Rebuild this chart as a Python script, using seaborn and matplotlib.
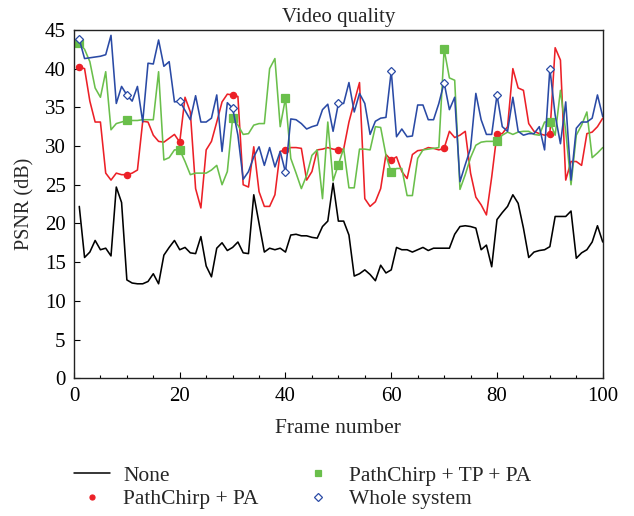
import numpy as np
import pandas as pd
import matplotlib
matplotlib.use("Agg")
import matplotlib.pyplot as plt
from matplotlib.lines import Line2D
import seaborn as sns

# PSNR per frame
frames = list(range(1, 101))

none_psnr = [
    22.2, 15.6, 16.3, 17.8, 16.6, 16.8, 15.8, 24.7, 22.7, 12.7,
    12.3, 12.2, 12.2, 12.5, 13.5, 12.2, 15.9, 16.9, 17.8, 16.6,
    16.9, 16.2, 16.1, 18.3, 14.5, 13.1, 16.8, 17.5, 16.5, 16.9,
    17.6, 16.2, 16.1, 23.7, 20.0, 16.3, 16.8, 16.6, 16.8, 16.3,
    18.5, 18.6, 18.4, 18.4, 18.2, 18.1, 19.6, 20.3, 25.2, 20.3,
    20.3, 18.5, 13.2, 13.5, 14.0, 13.4, 12.6, 14.6, 13.6, 14.0,
    16.9, 16.6, 16.6, 16.3, 16.6, 16.9, 16.5, 16.8, 16.8, 16.8,
    16.8, 18.6, 19.6, 19.7, 19.6, 19.4, 16.6, 17.2, 14.4, 20.5,
    21.4, 22.2, 23.7, 22.6, 19.4, 15.6, 16.3, 16.5, 16.6, 17.0,
    20.9, 20.9, 20.9, 21.6, 15.5, 16.2, 16.6, 17.6, 19.7, 17.6,
]

pathchirp_pa = [
    40.2, 40.0, 35.8, 33.1, 33.1, 26.5, 25.6, 26.5, 26.3, 26.3,
    26.5, 26.9, 33.2, 33.1, 31.4, 30.6, 30.5, 31.0, 31.5, 30.5,
    36.3, 34.4, 24.5, 22.0, 29.5, 30.6, 33.1, 35.7, 36.7, 36.6,
    36.4, 25.0, 24.7, 29.9, 24.1, 22.2, 22.2, 23.7, 29.3, 29.5,
    29.8, 29.8, 29.7, 25.6, 26.7, 29.5, 29.6, 29.8, 29.6, 29.5,
    29.6, 33.1, 35.7, 38.2, 23.2, 22.2, 22.8, 24.5, 28.9, 28.2,
    28.6, 26.7, 25.8, 28.9, 29.4, 29.5, 29.8, 29.7, 29.5, 29.7,
    31.9, 31.1, 31.4, 31.9, 26.5, 23.4, 22.4, 21.1, 26.0, 31.6,
    31.6, 32.5, 40.0, 37.5, 37.2, 32.9, 31.9, 31.6, 31.4, 31.6,
    42.7, 41.1, 25.6, 28.0, 28.0, 27.5, 31.6, 31.8, 32.5, 33.6,
]

pathchirp_tp_pa = [
    43.3, 42.5, 40.9, 37.5, 36.3, 39.6, 32.1, 32.9, 33.1, 33.3,
    33.3, 33.3, 33.4, 33.4, 33.4, 39.6, 28.2, 28.5, 29.5, 29.5,
    28.0, 26.3, 26.5, 26.5, 26.5, 26.9, 27.5, 25.0, 26.7, 33.6,
    32.7, 31.5, 31.6, 32.7, 32.9, 32.9, 40.0, 41.3, 32.5, 36.2,
    28.4, 26.5, 24.5, 26.2, 28.8, 29.5, 23.2, 33.1, 25.5, 27.6,
    29.7, 24.6, 24.6, 29.6, 29.6, 29.5, 32.5, 32.4, 28.8, 26.6,
    27.1, 27.1, 23.6, 23.6, 28.4, 29.5, 29.6, 29.7, 29.8, 42.5,
    38.8, 38.5, 24.4, 26.3, 28.5, 30.1, 30.5, 30.6, 30.6, 30.6,
    31.4, 31.8, 31.5, 31.8, 31.9, 31.9, 31.5, 31.4, 33.1, 33.1,
    31.4, 37.2, 31.9, 25.0, 31.4, 32.7, 34.4, 28.5, 29.1, 29.8,
]

whole_system = [
    43.8, 41.3, 41.4, 41.5, 41.6, 41.8, 44.3, 35.5, 37.7, 36.6,
    35.8, 37.7, 33.1, 40.7, 40.6, 43.7, 40.3, 40.9, 35.7, 35.8,
    34.6, 33.4, 36.5, 33.1, 33.1, 33.6, 36.6, 29.3, 35.6, 34.9,
    31.4, 25.7, 26.7, 28.6, 29.9, 27.5, 29.8, 27.3, 29.3, 26.6,
    33.5, 33.4, 32.9, 32.2, 32.5, 32.7, 34.7, 35.4, 31.9, 35.5,
    35.5, 38.2, 34.4, 36.8, 35.5, 31.5, 33.2, 33.6, 33.7, 39.7,
    31.2, 32.2, 31.2, 31.3, 35.3, 35.3, 33.4, 33.4, 35.5, 38.2,
    34.7, 36.3, 25.4, 27.6, 29.7, 36.8, 33.4, 31.5, 31.5, 36.6,
    32.5, 31.9, 36.3, 31.9, 31.4, 31.6, 31.6, 32.5, 29.5, 40.0,
    34.0, 30.3, 35.7, 25.6, 32.3, 33.1, 33.1, 33.6, 36.6, 33.8,
]

series_names = ["None", "PathChirp + PA", "PathChirp + TP + PA", "Whole system"]
marked_frames = [1, 10, 20, 30, 40, 50, 60, 70, 80, 90]

df = pd.DataFrame({
    "frame": frames,
    "None": none_psnr,
    "PathChirp + PA": pathchirp_pa,
    "PathChirp + TP + PA": pathchirp_tp_pa,
    "Whole system": whole_system,
})

sns.set_theme(style="white")
plt.rcParams["font.family"] = ["Liberation Serif", "DejaVu Serif"]
plt.rcParams["font.size"] = 15

styles = {
    "None": dict(color="black", marker=None, ms=0, mfc="black"),
    "PathChirp + PA": dict(color="#ec2027", marker="o", ms=4.5, mfc="#ec2027"),
    "PathChirp + TP + PA": dict(color="#6abf4b", marker="s", ms=5.5, mfc="#6abf4b"),
    "Whole system": dict(color="#2a4aa5", marker="D", ms=4.5, mfc="white"),
}

fig = plt.figure(figsize=(6.34, 5.16), dpi=100)
ax = fig.add_axes([0.1167, 0.267, 0.834, 0.675])

mark_idx = [frames.index(f) for f in marked_frames]
for name in series_names:
    st = styles[name]
    kw = dict(lw=1.15)
    if st["marker"] is not None:
        kw.update(marker=st["marker"], markevery=mark_idx, markersize=st["ms"],
                  markerfacecolor=st["mfc"], markeredgecolor=st["color"],
                  markeredgewidth=0.9)
    sns.lineplot(data=df, x="frame", y=name, ax=ax, color=st["color"], **kw)

ax.set_xlim(0, 100)
ax.set_ylim(0, 45)
ax.set_xticks(np.arange(0, 101, 20))
ax.set_xticks(np.arange(0, 101, 5), minor=True)
ax.set_yticks(np.arange(0, 46, 5))
ax.tick_params(axis="both", which="both", direction="in", labelsize=15,
               bottom=True, left=True, top=False, right=False, colors="black")
ax.tick_params(which="major", length=4, width=0.8, pad=6)
ax.tick_params(which="minor", length=2.5, width=0.8)
for sp in ax.spines.values():
    sp.set_color("#222222")
    sp.set_linewidth(1.0)

ax.set_title("Video quality", fontsize=15, pad=6)
ax.set_xlabel("Frame number", fontsize=15.5, labelpad=10)
ax.set_ylabel("PSNR (dB)", fontsize=14.5, labelpad=7)

handles = []
for name in series_names:
    st = styles[name]
    if st["marker"] is None:
        handles.append(Line2D([], [], color=st["color"], lw=1.1))
    else:
        handles.append(Line2D([], [], ls="none", marker=st["marker"],
                              markersize=st["ms"] * 0.8, markerfacecolor=st["mfc"],
                              markeredgecolor=st["color"], markeredgewidth=0.9))
fig.legend(handles, series_names, loc="upper left", bbox_to_anchor=(0.116, 0.097),
           ncol=2, frameon=False, fontsize=15.5, columnspacing=1.9,
           handlelength=1.7, handletextpad=0.6, labelspacing=0.15,
           borderpad=0, borderaxespad=0)

fig.savefig("out.png", dpi=100)
